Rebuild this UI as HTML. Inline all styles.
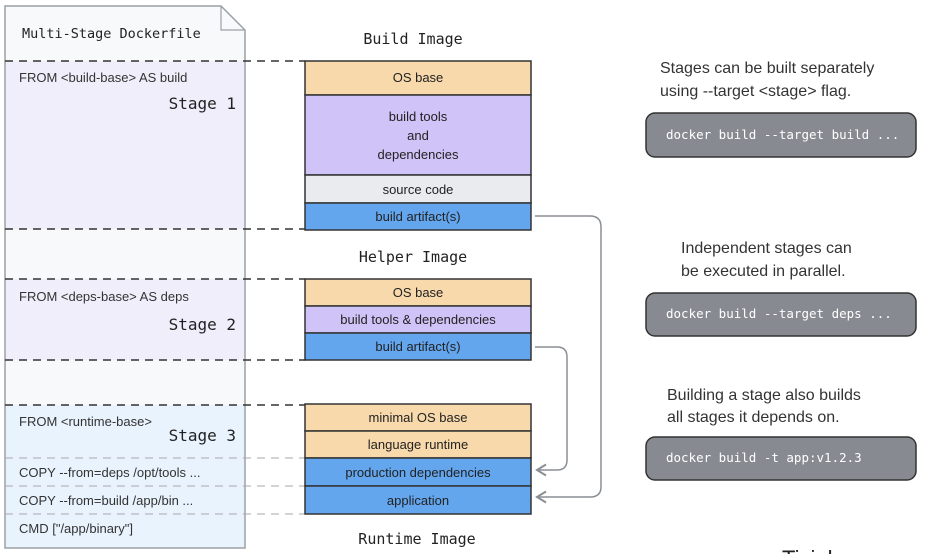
<!DOCTYPE html>
<html><head><meta charset="utf-8"><style>
body{margin:0;background:#fff;width:932px;height:554px;overflow:hidden}
svg text{font-family:"Liberation Sans",sans-serif}
svg text.h, svg .h text{font-family:"DejaVu Sans Mono","Liberation Mono",monospace;font-size:15px;fill:#222}
svg .m text, svg text.m{font-family:"DejaVu Sans Mono","Liberation Mono",monospace}
</style></head><body>
<svg width="932" height="554" viewBox="0 0 932 554" xmlns="http://www.w3.org/2000/svg">
<defs><marker id="ar" markerWidth="14" markerHeight="14" refX="11" refY="7" orient="auto" markerUnits="userSpaceOnUse"><path d="M2,1.5 L11,7 L2,12.5" fill="none" stroke="#8a8f96" stroke-width="2"/></marker></defs>
<path d="M5,6 H221 L245,30 V548 H5 Z" fill="#f8f9fa" stroke="#9aa0a6" stroke-width="1.5"/>
<path d="M221,6 V30 H245" fill="none" stroke="#9aa0a6" stroke-width="1.2"/>
<rect x="6" y="61" width="238" height="168" fill="#f0eefb"/>
<rect x="6" y="279" width="238" height="81" fill="#f0eefb"/>
<rect x="6" y="405" width="238" height="142" fill="#e9f3fd"/>
<text x="22" y="38" class="h" style="font-size:13.5px">Multi-Stage Dockerfile</text>
<g stroke="#333" stroke-width="1.6" stroke-dasharray="8,6">
<line x1="5" y1="61" x2="305" y2="61"/><line x1="5" y1="229" x2="305" y2="229"/>
<line x1="5" y1="279" x2="305" y2="279"/><line x1="5" y1="360" x2="305" y2="360"/>
<line x1="5" y1="405" x2="305" y2="405"/></g>
<g stroke="#aaa" stroke-width="1" stroke-dasharray="8,6">
<line x1="5" y1="458" x2="305" y2="458"/><line x1="5" y1="486" x2="305" y2="486"/><line x1="5" y1="514" x2="305" y2="514"/></g>
<g font-size="13" fill="#333">
<text x="19" y="82">FROM &lt;build-base&gt; AS build</text>
<text x="19" y="301">FROM &lt;deps-base&gt; AS deps</text>
<text x="19" y="426">FROM &lt;runtime-base&gt;</text>
<text x="19" y="477">COPY  --from=deps /opt/tools ...</text>
<text x="19" y="505">COPY  --from=build /app/bin ...</text>
<text x="19" y="533">CMD ["/app/binary"]</text></g>
<g class="m" font-size="16" fill="#222" text-anchor="end">
<text x="236" y="109">Stage 1</text><text x="236" y="330">Stage 2</text><text x="236" y="441">Stage 3</text></g>
<g stroke="#333" stroke-width="1.5">
<rect x="305" y="61" width="226" height="34" fill="#f8d9ab"/>
<rect x="305" y="95" width="226" height="80" fill="#cfc3f7"/>
<rect x="305" y="175" width="226" height="28" fill="#e9ebee"/>
<rect x="305" y="203" width="226" height="27" fill="#63a6ee"/>
<rect x="305" y="279" width="226" height="27" fill="#f8d9ab"/>
<rect x="305" y="306" width="226" height="27" fill="#cfc3f7"/>
<rect x="305" y="333" width="226" height="27" fill="#63a6ee"/>
<rect x="305" y="404" width="226" height="27" fill="#f8d9ab"/>
<rect x="305" y="431" width="226" height="27" fill="#f8d9ab"/>
<rect x="305" y="458" width="226" height="28" fill="#63a6ee"/>
<rect x="305" y="486" width="226" height="28" fill="#63a6ee"/>
</g>
<g font-size="13" fill="#222" text-anchor="middle">
<text x="418" y="82">OS base</text>
<text x="418" y="121">build tools</text><text x="418" y="140">and</text><text x="418" y="159">dependencies</text>
<text x="418" y="194">source code</text><text x="418" y="221">build artifact(s)</text>
<text x="418" y="297">OS base</text><text x="418" y="324">build tools &amp; dependencies</text><text x="418" y="351">build artifact(s)</text>
<text x="418" y="422">minimal OS base</text><text x="418" y="449">language runtime</text>
<text x="418" y="477">production dependencies</text><text x="418" y="505">application</text></g>
<g class="h" text-anchor="middle"><text x="413" y="44">Build Image</text><text x="413" y="262">Helper Image</text><text x="417" y="544">Runtime Image</text></g>
<g fill="none" stroke="#8a8f96" stroke-width="1.5">
<path d="M535,216 H590 Q601,216 601,227 V487 Q601,497 590,497 H537" marker-end="url(#ar)"/>
<path d="M535,347 H557 Q567,347 567,357 V460 Q567,470 557,470 H537" marker-end="url(#ar)"/></g>
<g font-size="16" fill="#333">
<text x="660" y="73">Stages can be built separately</text><text x="660" y="96">using --target &lt;stage&gt; flag.</text>
<text x="681" y="253">Independent stages can</text><text x="681" y="276">be executed in parallel.</text>
<text x="667" y="400">Building a stage also builds</text><text x="667" y="422">all stages it depends on.</text></g>
<g fill="#878b91" stroke="#333" stroke-width="1.5">
<rect x="646" y="113" width="270" height="44" rx="9"/><rect x="646" y="293" width="270" height="43" rx="9"/><rect x="646" y="437" width="270" height="43" rx="9"/></g>
<g class="m" font-size="12.5" fill="#fff">
<text x="666" y="139">docker build --target build ...</text>
<text x="666" y="318">docker build --target deps ...</text>
<text x="666" y="462">docker build -t app:v1.2.3</text></g>
<text x="782" y="566" font-size="22" fill="#222">Tiziah</text>
</svg>
</body></html>
